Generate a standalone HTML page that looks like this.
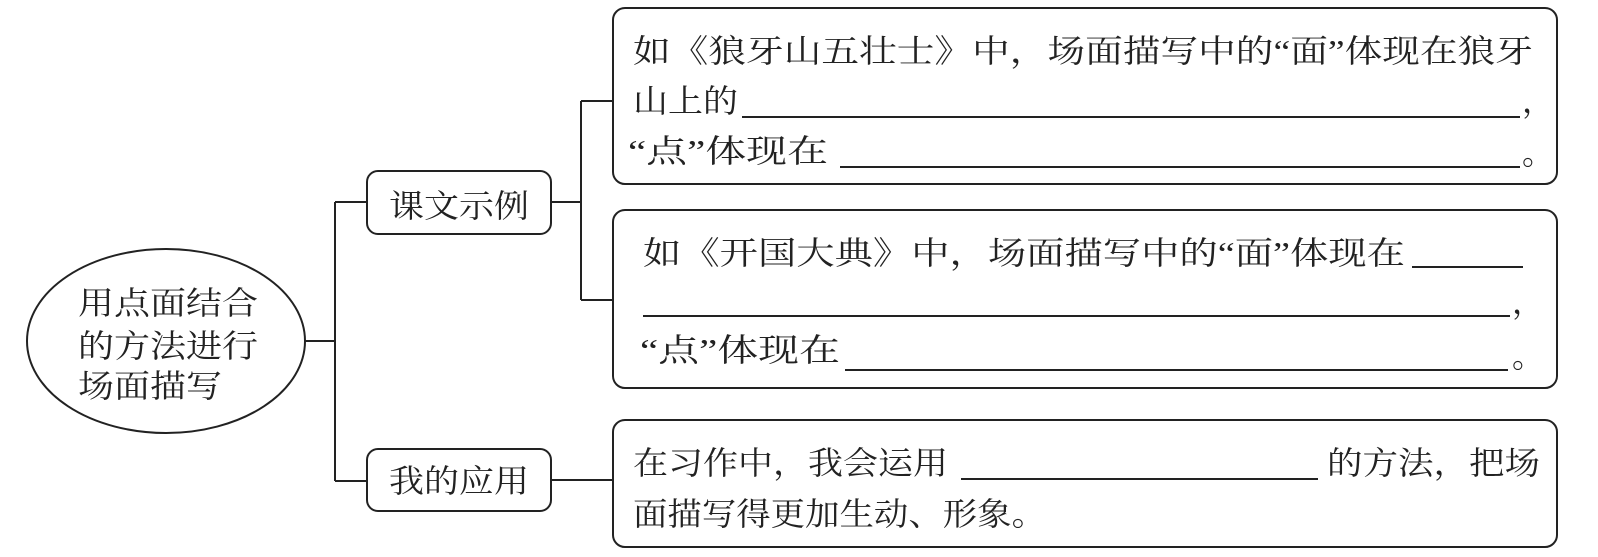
<!DOCTYPE html>
<html><head><meta charset="utf-8"><style>
html,body{margin:0;padding:0;background:#fff;}
svg{display:block;}
text{font-family:"Liberation Serif","Noto Serif CJK SC","Noto Sans CJK SC",serif;font-size:32px;fill:#222;}
</style></head><body>
<svg width="1598" height="557" viewBox="0 0 1598 557" xmlns="http://www.w3.org/2000/svg">
<g fill="none" stroke="#222" stroke-width="2">
<ellipse cx="166" cy="341" rx="139" ry="92"/>
<path d="M305 341H335M335 202V481M335 202H367M335 481H367"/>
<rect x="367" y="171" width="184" height="63" rx="11"/>
<rect x="367" y="449" width="184" height="62" rx="11"/>
<path d="M551 202H581M581 101V300M581 101H613M581 300H613"/>
<path d="M551 480H613"/>
<rect x="613" y="8" width="944" height="176" rx="12"/>
<rect x="613" y="210" width="944" height="178" rx="12"/>
<rect x="613" y="420" width="944" height="127" rx="12"/>
<path d="M742 117H1520M840 167H1520"/>
<path d="M1412 267H1523M643 316H1510M845 370H1508"/>
<path d="M961 479H1318"/>
</g>
<text x="78" y="314" textLength="180" lengthAdjust="spacingAndGlyphs">用点面结合</text>
<text x="78" y="357" textLength="180" lengthAdjust="spacingAndGlyphs">的方法进行</text>
<text x="78" y="397" textLength="144" lengthAdjust="spacingAndGlyphs">场面描写</text>
<text x="389" y="217" textLength="140" lengthAdjust="spacingAndGlyphs">课文示例</text>
<text x="389" y="492" textLength="140" lengthAdjust="spacingAndGlyphs">我的应用</text>
<text x="633" y="62" textLength="900" lengthAdjust="spacingAndGlyphs">如《狼牙山五壮士》中，场面描写中的“面”体现在狼牙</text>
<text x="633" y="112" textLength="105" lengthAdjust="spacingAndGlyphs">山上的</text>
<text x="1522" y="112">，</text>
<text x="628" y="162" textLength="200" lengthAdjust="spacingAndGlyphs">“点”体现在</text>
<text x="1522" y="164">。</text>
<text x="643" y="264" textLength="762" lengthAdjust="spacingAndGlyphs">如《开国大典》中，场面描写中的“面”体现在</text>
<text x="1512" y="313">，</text>
<text x="640" y="361" textLength="200" lengthAdjust="spacingAndGlyphs">“点”体现在</text>
<text x="1512" y="367">。</text>
<text x="633" y="474" textLength="315" lengthAdjust="spacingAndGlyphs">在习作中，我会运用</text>
<text x="1327" y="474" textLength="213" lengthAdjust="spacingAndGlyphs">的方法，把场</text>
<text x="633" y="525" textLength="413" lengthAdjust="spacingAndGlyphs">面描写得更加生动、形象。</text>
</svg>
</body></html>
